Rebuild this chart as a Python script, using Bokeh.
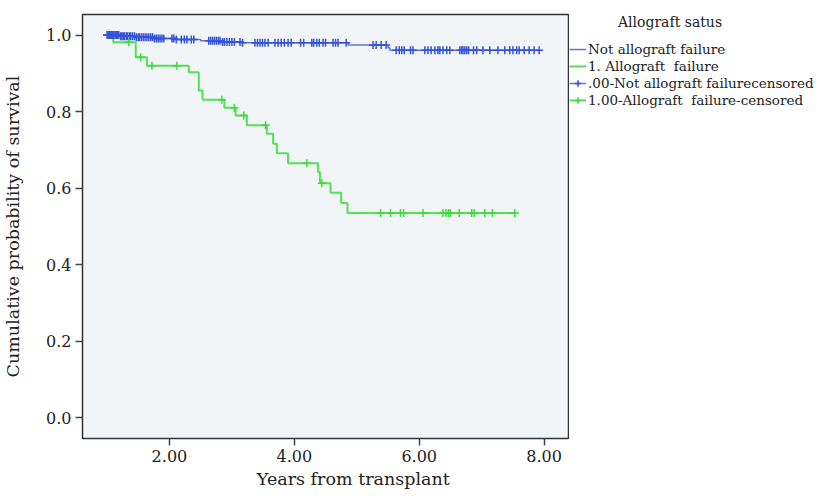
import numpy as np
from bokeh.plotting import figure
from bokeh.layouts import row
from bokeh.models import (Range1d, FixedTicker, NumeralTickFormatter, Legend, LegendItem)
from bokeh.embed import file_html
from bokeh.resources import INLINE

# ---- data ----
# Not allograft failure (Kaplan-Meier step: times of events and survival after each)
blue_times = [0.98, 1.20, 1.45, 1.75, 2.10, 2.50, 2.85, 3.15, 4.86, 5.50, 5.53, 7.94]
blue_surv = [1.000, 0.997, 0.994, 0.991, 0.988, 0.985, 0.982, 0.980, 0.974, 0.967, 0.960, 0.960]
blue_censored = [1.00, 1.02, 1.04, 1.05, 1.07, 1.09, 1.11, 1.13, 1.15, 1.17, 1.19, 1.22, 1.24, 1.26,
                 1.28, 1.31, 1.33, 1.36, 1.38, 1.41, 1.44, 1.47, 1.50, 1.52, 1.55, 1.58, 1.61, 1.64,
                 1.67, 1.70, 1.73, 1.76, 1.79, 1.82, 1.85, 1.88, 1.91,
                 2.04, 2.07, 2.11, 2.19, 2.24, 2.28, 2.35, 2.39,
                 2.63, 2.66, 2.69, 2.72, 2.75, 2.78, 2.81, 2.85, 2.88, 2.92, 2.96, 3.00, 3.04,
                 3.13, 3.17, 3.37, 3.41, 3.45, 3.49, 3.53, 3.58,
                 3.69, 3.74, 3.79, 3.84, 3.90, 3.95, 4.10, 4.15, 4.28, 4.31, 4.36, 4.40,
                 4.46, 4.50, 4.62, 4.66, 4.70, 4.83,
                 5.26, 5.31, 5.39, 5.47, 5.63, 5.68, 5.72, 5.76, 5.86, 5.90, 6.09, 6.14, 6.19,
                 6.25, 6.30, 6.33, 6.38, 6.44, 6.49, 6.65, 6.68, 6.70, 6.73, 6.76, 6.79, 6.87,
                 6.92, 7.02, 7.13, 7.26, 7.37, 7.45, 7.50, 7.56, 7.60, 7.68, 7.76, 7.84, 7.92]

# Allograft failure
green_times = [1.00, 1.10, 1.46, 1.64, 2.31, 2.47, 2.53, 2.88, 3.06, 3.24, 3.56, 3.66, 3.72,
               3.90, 4.38, 4.41, 4.58, 4.75, 4.85, 7.55]
green_surv = [1.000, 0.981, 0.942, 0.920, 0.903, 0.855, 0.831, 0.810, 0.790, 0.764, 0.742,
              0.716, 0.691, 0.665, 0.642, 0.613, 0.588, 0.561, 0.535, 0.535]
green_censored = [1.35, 1.54, 1.72, 2.12, 2.84, 3.04, 3.19, 3.54, 4.20, 4.44, 5.38, 5.54, 5.70,
                  5.75, 6.06, 6.38, 6.43, 6.47, 6.50, 6.64, 6.84, 6.88, 7.05, 7.17, 7.53]

x_ticks = [2, 4, 6, 8]
y_ticks = [0.0, 0.2, 0.4, 0.6, 0.8, 1.0]

series_labels = ["Not allograft failure", "1. Allograft  failure",
                 ".00-Not allograft failurecensored", "1.00-Allograft  failure-censored"]
legend_title = "Allograft satus"
x_title = "Years from transplant"
y_title = "Cumulative probability of survival"


def step_value(times, surv, t):
    idx = np.searchsorted(np.asarray(times), np.asarray(t), side="right") - 1
    return np.asarray(surv)[np.clip(idx, 0, len(surv) - 1)]


FONT = "DejaVu Serif"
BLUE_LINE = "#5c76dc"
BLUE_MARK = "#3552d8"
GREEN_LINE = "#55e055"
GREEN_MARK = "#3fd83f"
TXT = "#222222"

# ---------------- main chart ----------------
p = figure(width=569, height=496, output_backend="svg", toolbar_location=None,
           x_range=Range1d(0.608, 8.39), y_range=Range1d(-0.054, 1.0536),
           min_border_left=80, min_border_right=1, min_border_top=14, min_border_bottom=58)

p.background_fill_color = "#f2f5f7"
p.border_fill_color = "white"
p.outline_line_color = "#333333"
p.outline_line_width = 1.5
p.grid.visible = False

for ax in (p.xaxis[0], p.yaxis[0]):
    ax.axis_line_color = None
    ax.major_tick_in = 0
    ax.major_tick_out = 7
    ax.minor_tick_line_color = None
    ax.major_tick_line_color = "#444444"
    ax.major_tick_line_width = 1.5
    ax.major_label_text_font = FONT
    ax.major_label_text_font_size = "16px"
    ax.major_label_text_color = TXT
    ax.major_label_standoff = 4
    ax.axis_label_text_font = FONT
    ax.axis_label_text_font_style = "normal"
    ax.axis_label_text_font_size = "17.5px"
    ax.axis_label_text_color = TXT

p.xaxis.ticker = FixedTicker(ticks=x_ticks)
p.xaxis.formatter = NumeralTickFormatter(format="0.00")
p.yaxis.ticker = FixedTicker(ticks=y_ticks)
p.yaxis.formatter = NumeralTickFormatter(format="0.0")

p.yaxis.axis_label = y_title
p.yaxis.axis_label_standoff = 20
p.xaxis.axis_label = "\u00a0" * 10 + x_title
p.xaxis.axis_label_standoff = 4

p.step(blue_times, blue_surv, mode="after", line_color=BLUE_LINE, line_width=1.5)
p.step(green_times, green_surv, mode="after", line_color=GREEN_LINE, line_width=2)

blue_cy = step_value(blue_times, blue_surv, blue_censored)
green_cy = step_value(green_times, green_surv, green_censored)
p.scatter(blue_censored, blue_cy, marker="cross", size=8, line_color=BLUE_MARK, line_width=1.5)
p.scatter(green_censored, green_cy, marker="cross", size=8, line_color=GREEN_MARK, line_width=1.5)

# ---------------- legend panel ----------------
# the same series are drawn here outside the visible range, only to give the legend its samples
q = figure(width=258, height=496, output_backend="svg", toolbar_location=None,
           title_location=None, x_axis_location=None, y_axis_location=None,
           x_range=Range1d(100, 101), y_range=Range1d(100, 101), min_border=0)
q.grid.visible = False
q.outline_line_color = None
q.background_fill_color = "white"
q.border_fill_color = "white"

lg_blue = q.step(blue_times, blue_surv, mode="after", line_color=BLUE_LINE, line_width=1.5)
lg_green = q.step(green_times, green_surv, mode="after", line_color=GREEN_LINE, line_width=2)
lg_blue_mk = q.scatter(blue_censored, blue_cy, marker="cross", size=8, line_color=BLUE_MARK, line_width=1.5)
lg_green_mk = q.scatter(green_censored, green_cy, marker="cross", size=8, line_color=GREEN_MARK, line_width=1.5)

legend = Legend(items=[
    LegendItem(label=series_labels[0], renderers=[lg_blue]),
    LegendItem(label=series_labels[1], renderers=[lg_green]),
    LegendItem(label=series_labels[2], renderers=[lg_blue, lg_blue_mk]),
    LegendItem(label=series_labels[3], renderers=[lg_green, lg_green_mk]),
], location="top_left")
legend.title = "\u00a0" * 11 + legend_title
legend.title_text_font = FONT
legend.title_text_font_size = "14px"
legend.title_text_font_style = "normal"
legend.title_text_color = TXT
legend.title_standoff = 11
legend.background_fill_alpha = 0
legend.border_line_color = None
legend.margin = 0
legend.padding = 0
legend.spacing = 1
legend.glyph_width = 17
legend.glyph_height = 16
legend.label_height = 16
legend.label_standoff = 2
legend.label_text_font = FONT
legend.label_text_font_size = "13.5px"
legend.label_text_color = TXT
q.add_layout(legend, "center")

layout = row(p, q)
open("out.html", "w").write(file_html(layout, INLINE))
